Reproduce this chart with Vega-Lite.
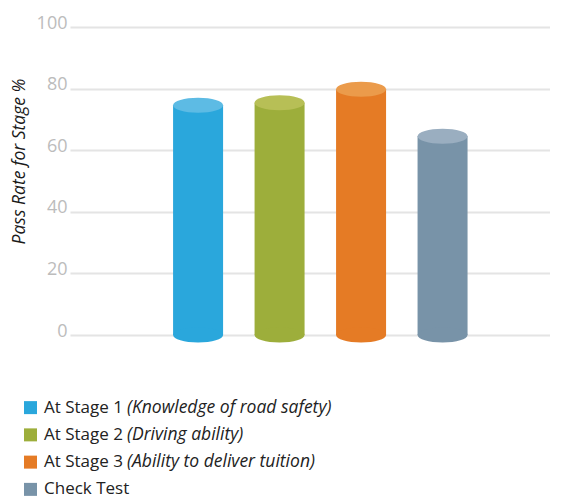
{
  "$schema": "https://vega.github.io/schema/vega-lite/v6.json",
  "padding": {"left": 10, "top": 14, "right": 0, "bottom": 0},
  "background": "white",
  "spacing": 51,
  "config": {"view": {"stroke": null}, "font": "Open Sans"},
  "datasets": {
    "passrates": [
      {"stage": "At Stage 1", "detail": "(Knowledge of road safety)", "rate": 74.6},
      {"stage": "At Stage 2", "detail": "(Driving ability)", "rate": 75.4},
      {"stage": "At Stage 3", "detail": "(Ability to deliver tuition)", "rate": 79.8},
      {"stage": "Check Test", "detail": "", "rate": 64.5}
    ]
  },
  "vconcat": [
    {
      "width": 480,
      "height": 308,
      "data": {"name": "passrates"},
      "encoding": {
        "x": {
          "field": "stage", "type": "nominal", "sort": null, "axis": null,
          "scale": {"paddingInner": 0, "paddingOuter": 0.945, "align": 0.567}
        }
      },
      "layer": [
        {
          "mark": {"type": "bar", "size": 50},
          "encoding": {
            "y": {
              "field": "rate", "type": "quantitative",
              "scale": {"domain": [0, 100]},
              "axis": {
                "values": [0, 20, 40, 60, 80, 100],
                "domain": false, "ticks": false, "grid": true,
                "gridColor": "#e4e4e4", "gridWidth": 2,
                "labelColor": "#bcbcbc", "labelFontSize": 18, "labelPadding": 3, "labelOffset": -4,
                "title": "Pass Rate for Stage %",
                "titleFontStyle": "italic", "titleFontWeight": "normal", "titleFontSize": 17.5,
                "titleColor": "#1a1a1a", "titlePadding": 8, "titleY": 134
              }
            },
            "color": {
              "field": "stage", "type": "nominal", "legend": null,
              "scale": {"domain": ["At Stage 1", "At Stage 2", "At Stage 3", "Check Test"],
                        "range": ["#2aa7dc", "#9dae3b", "#e57b25", "#7893a8"]}
            }
          }
        },
        {
          "mark": {"type": "point", "shape": "M -1 0 A 1 0.3 0 1 0 1 0 A 1 0.3 0 1 0 -1 0 Z", "filled": true, "size": 2500, "opacity": 1, "strokeWidth": 0},
          "encoding": {
            "y": {"datum": 0, "type": "quantitative"},
            "color": {
              "field": "stage", "type": "nominal", "legend": null,
              "scale": {"domain": ["At Stage 1", "At Stage 2", "At Stage 3", "Check Test"],
                        "range": ["#2aa7dc", "#9dae3b", "#e57b25", "#7893a8"]}
            }
          }
        },
        {
          "mark": {"type": "point", "shape": "M -1 0 A 1 0.3 0 1 0 1 0 A 1 0.3 0 1 0 -1 0 Z", "filled": true, "size": 2500, "opacity": 1, "strokeWidth": 0},
          "encoding": {
            "y": {"field": "rate", "type": "quantitative"},
            "fill": {
              "field": "stage", "type": "nominal", "legend": null,
              "scale": {"domain": ["At Stage 1", "At Stage 2", "At Stage 3", "Check Test"],
                        "range": ["#5dbbe4", "#b7bf56", "#eb9b4b", "#9aaec0"]}
            }
          }
        }
      ]
    },
    {
      "width": 400,
      "height": 109,
      "data": {"name": "passrates"},
      "encoding": {
        "y": {"field": "stage", "type": "nominal", "sort": null, "axis": null,
              "scale": {"paddingInner": 0, "paddingOuter": 0}}
      },
      "layer": [
        {
          "mark": {"type": "point", "shape": "square", "filled": true, "size": 169, "opacity": 1, "strokeWidth": 0},
          "encoding": {
            "x": {"value": -39.5},
            "color": {
              "field": "stage", "type": "nominal", "legend": null,
              "scale": {"domain": ["At Stage 1", "At Stage 2", "At Stage 3", "Check Test"],
                        "range": ["#2aa7dc", "#9dae3b", "#e57b25", "#7893a8"]}
            }
          }
        },
        {
          "mark": {"type": "text", "align": "left", "baseline": "middle", "fontSize": 17, "color": "#222222"},
          "encoding": {"x": {"value": -26}, "text": {"field": "stage"}}
        },
        {
          "mark": {"type": "text", "align": "left", "baseline": "middle", "fontSize": 17.5, "fontStyle": "italic", "color": "#222222", "dx": 83},
          "encoding": {"x": {"value": -26}, "text": {"field": "detail"}}
        }
      ]
    }
  ]
}
